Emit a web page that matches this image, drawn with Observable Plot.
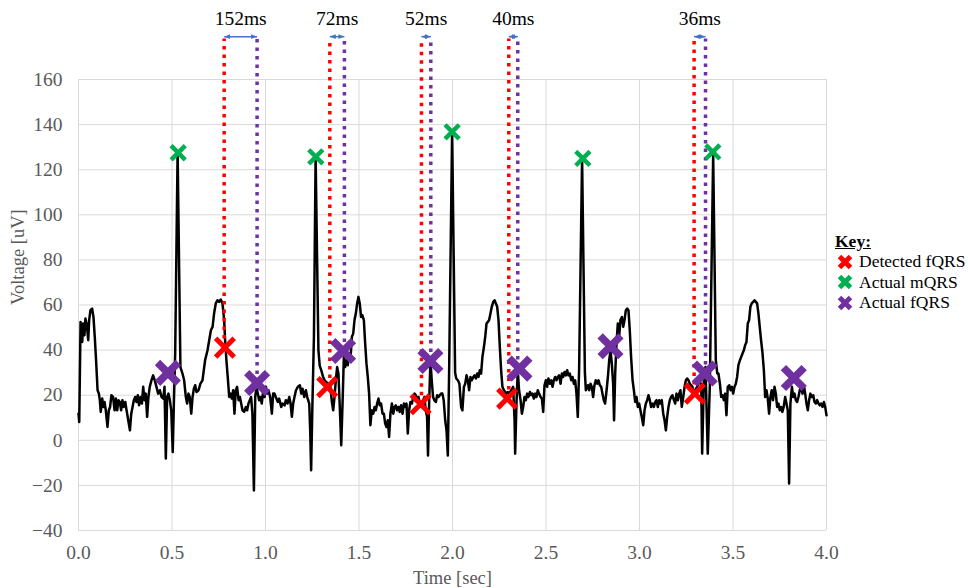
<!DOCTYPE html>
<html>
<head>
<meta charset="utf-8">
<script src="https://cdn.jsdelivr.net/npm/d3@7"></script>
<script src="https://cdn.jsdelivr.net/npm/@observablehq/plot@0.6"></script>
<style>
  html, body { margin: 0; padding: 0; background: #fff; }
  #wrap { position: relative; width: 968px; height: 588px; overflow: hidden; }
  #legend { position: absolute; left: 835px; top: 231px; font-family: "Liberation Serif", serif; font-size: 17.5px; color: #000; white-space: nowrap; width: 140px; }
  #legend .key { font-weight: bold; text-decoration: underline; height: 20.5px; line-height: 20.5px; }
  #legend .row { display: flex; align-items: center; height: 20.5px; white-space: nowrap; }
  #legend .row svg { margin-left: 2px; margin-right: 6px; flex: none; }
</style>
</head>
<body>
<div id="wrap">
  <div id="chart"></div>
  <div id="legend"></div>
</div>
<script>
// ---- Data ----
// ECG trace: [time (s), voltage (uV)]
const ecg = [
[0.000,11.8],[0.004,8.1],[0.011,52.5],[0.020,43.6],[0.025,51.8],[0.032,46.6],[0.037,54.0],[0.045,51.0],[0.052,44.4],[0.057,53.3],[0.064,57.7],[0.073,58.4],[0.080,54.7],[0.087,45.9],[0.094,35.5],[0.102,22.2],[0.109,20.7],[0.114,17.8],[0.119,12.6],[0.127,18.5],[0.132,14.8],[0.139,17.0],[0.146,13.3],[0.155,5.9],[0.162,13.3],[0.169,14.8],[0.176,20.0],[0.185,19.2],[0.193,13.3],[0.200,18.5],[0.207,13.3],[0.214,17.8],[0.221,17.0],[0.228,13.3],[0.235,17.8],[0.242,14.8],[0.250,17.0],[0.257,13.3],[0.266,8.9],[0.275,4.4],[0.282,11.8],[0.289,14.8],[0.296,17.8],[0.303,19.2],[0.310,17.0],[0.317,20.0],[0.324,15.5],[0.332,19.2],[0.339,16.3],[0.346,23.7],[0.353,17.8],[0.360,20.7],[0.367,10.4],[0.374,19.2],[0.381,23.7],[0.390,26.6],[0.399,28.8],[0.408,26.6],[0.417,23.7],[0.426,20.7],[0.435,22.2],[0.444,19.2],[0.453,18.5],[0.460,23.7],[0.467,-8.1],[0.474,19.2],[0.481,20.7],[0.488,18.0],[0.496,13.3],[0.504,-5.2],[0.510,16.3],[0.517,38.5],[0.530,128.0],[0.545,32.5],[0.556,29.6],[0.565,26.6],[0.574,19.2],[0.581,16.3],[0.588,20.7],[0.595,19.2],[0.603,11.8],[0.610,19.2],[0.617,22.9],[0.624,24.4],[0.631,21.4],[0.642,22.2],[0.652,25.1],
[0.663,26.6],[0.677,35.5],[0.690,39.9],[0.699,44.4],[0.708,48.8],[0.717,50.3],[0.725,56.2],[0.734,60.7],[0.743,62.1],[0.752,61.4],[0.761,62.4],[0.770,60.7],[0.779,53.3],[0.784,44.4],[0.791,35.5],[0.798,28.1],[0.806,19.2],[0.813,20.7],[0.820,18.5],[0.827,22.2],[0.834,11.8],[0.841,22.2],[0.848,23.7],[0.856,17.8],[0.863,19.2],[0.870,16.3],[0.877,13.3],[0.886,12.6],[0.895,14.8],[0.902,13.3],[0.909,16.3],[0.916,17.8],[0.923,19.2],[0.930,11.8],[0.938,-22.2],[0.945,19.2],[0.952,23.7],[0.959,20.7],[0.966,17.8],[0.973,19.2],[0.980,16.3],[0.988,22.2],[0.995,19.2],[1.002,23.7],[1.009,20.7],[1.016,22.2],[1.025,19.2],[1.034,11.8],[1.041,20.7],[1.048,20.7],[1.055,19.2],[1.066,17.0],[1.073,18.5],[1.084,14.8],[1.091,16.3],[1.102,15.5],[1.109,17.8],[1.118,16.3],[1.127,19.2],[1.134,16.3],[1.141,10.4],[1.148,16.3],[1.155,19.2],[1.163,22.2],[1.173,23.7],[1.184,24.4],[1.191,20.7],[1.198,22.9],[1.207,19.2],[1.216,22.2],[1.223,19.2],[1.234,16.3],[1.239,4.4],[1.244,-13.3],[1.251,16.3],[1.259,45.9],[1.268,126.0],[1.283,40.0],[1.290,33.0],[1.298,31.1],[1.308,28.1],[1.316,26.6],[1.323,25.9],
[1.337,25.1],[1.346,24.4],[1.355,17.0],[1.362,13.3],[1.369,19.2],[1.376,26.6],[1.383,32.5],[1.390,29.6],[1.398,13.3],[1.405,-2.2],[1.412,16.3],[1.419,37.0],[1.426,32.5],[1.433,35.5],[1.440,33.3],[1.447,38.5],[1.455,37.0],[1.462,45.9],[1.469,47.3],[1.476,53.3],[1.483,56.2],[1.490,60.7],[1.497,63.6],[1.504,60.7],[1.511,54.7],[1.518,55.5],[1.526,53.3],[1.533,42.9],[1.540,34.0],[1.547,28.1],[1.554,20.7],[1.561,6.7],[1.568,13.3],[1.576,11.8],[1.583,14.8],[1.590,13.3],[1.597,16.3],[1.604,18.5],[1.611,15.5],[1.618,16.3],[1.626,11.8],[1.633,11.8],[1.640,7.4],[1.647,5.9],[1.654,8.9],[1.661,1.5],[1.668,11.8],[1.676,16.3],[1.683,11.8],[1.690,14.8],[1.697,15.5],[1.704,13.3],[1.711,14.8],[1.718,12.6],[1.725,15.5],[1.733,11.8],[1.740,16.3],[1.747,14.8],[1.754,16.3],[1.761,3.0],[1.768,13.3],[1.775,17.0],[1.783,16.3],[1.790,19.2],[1.797,20.7],[1.804,20.0],[1.811,17.8],[1.818,19.2],[1.825,17.0],[1.836,14.8],[1.843,17.8],[1.850,19.2],[1.857,13.3],[1.864,10.4],[1.869,-6.7],[1.875,16.3],[1.882,35.5],[1.889,26.6],[1.896,19.2],[1.903,17.8],[1.911,17.0],[1.918,20.0],[1.925,19.2],[1.932,20.0],[1.939,20.7],[1.946,20.7],[1.953,17.8],[1.961,8.9],[1.968,4.4],[1.975,-6.7],[1.982,31.1],[1.998,137.0],[2.014,30.0],
[2.020,27.4],[2.029,26.6],[2.037,25.1],[2.046,14.8],[2.053,13.3],[2.061,23.7],[2.068,25.1],[2.075,28.8],[2.082,26.6],[2.089,22.2],[2.096,28.1],[2.103,26.6],[2.111,28.1],[2.118,28.8],[2.125,27.4],[2.132,29.6],[2.139,28.1],[2.146,31.1],[2.153,29.6],[2.160,37.0],[2.168,41.4],[2.175,45.9],[2.182,51.8],[2.189,52.5],[2.196,53.3],[2.203,56.2],[2.210,59.2],[2.218,61.4],[2.225,62.1],[2.232,60.7],[2.239,59.2],[2.246,53.3],[2.253,41.4],[2.260,31.1],[2.267,23.7],[2.275,22.2],[2.282,21.4],[2.289,20.7],[2.296,21.4],[2.303,20.7],[2.314,22.2],[2.324,23.7],[2.332,8.9],[2.335,-5.9],[2.342,16.3],[2.349,31.1],[2.356,22.2],[2.364,17.8],[2.371,11.8],[2.378,14.8],[2.385,19.2],[2.392,17.8],[2.399,20.7],[2.406,19.2],[2.414,21.4],[2.421,20.0],[2.428,20.7],[2.435,18.5],[2.442,20.7],[2.449,19.2],[2.456,22.2],[2.463,20.7],[2.471,19.2],[2.478,18.5],[2.485,12.6],[2.492,24.4],[2.499,26.6],[2.506,23.7],[2.513,27.4],[2.521,25.1],[2.528,26.6],[2.535,23.7],[2.542,26.6],[2.549,28.1],[2.556,26.6],[2.563,28.1],[2.570,28.8],[2.578,25.1],[2.585,29.6],[2.592,28.1],[2.599,30.3],[2.606,28.8],[2.613,31.1],[2.620,28.8],[2.627,29.6],[2.635,26.6],[2.642,28.1],[2.649,25.1],[2.656,26.6],[2.663,20.7],[2.670,10.4],[2.677,31.1],[2.693,125.0],[2.708,30.0],[2.713,22.2],
[2.724,24.4],[2.731,22.2],[2.738,25.1],[2.745,23.7],[2.752,19.2],[2.759,24.4],[2.766,26.6],[2.774,25.1],[2.781,26.6],[2.788,24.4],[2.795,23.7],[2.802,20.7],[2.809,17.8],[2.816,16.3],[2.824,22.2],[2.831,28.1],[2.838,35.5],[2.845,39.9],[2.852,34.0],[2.859,25.1],[2.864,8.9],[2.870,29.6],[2.877,42.9],[2.884,51.8],[2.891,45.9],[2.898,53.3],[2.906,54.7],[2.913,50.3],[2.920,53.3],[2.927,57.7],[2.934,58.4],[2.941,57.7],[2.948,48.8],[2.955,37.0],[2.963,26.6],[2.970,22.2],[2.977,17.0],[2.984,19.2],[2.991,14.8],[2.998,16.3],[3.005,13.3],[3.012,10.4],[3.020,6.7],[3.027,13.3],[3.034,16.3],[3.041,17.8],[3.048,20.0],[3.055,17.8],[3.062,14.8],[3.070,16.3],[3.077,14.8],[3.084,17.0],[3.091,17.8],[3.098,14.8],[3.105,17.8],[3.112,16.3],[3.119,17.8],[3.127,11.8],[3.134,8.9],[3.141,4.4],[3.148,10.4],[3.155,14.8],[3.162,17.8],[3.169,19.2],[3.176,20.0],[3.184,17.8],[3.191,16.3],[3.198,20.7],[3.205,17.8],[3.212,20.7],[3.219,22.2],[3.226,14.8],[3.234,19.2],[3.241,23.7],[3.248,26.6],[3.255,27.4],[3.262,26.6],[3.269,25.1],[3.276,24.4],[3.283,23.7],[3.290,20.7],[3.297,22.2],[3.308,23.7],[3.320,26.0],[3.330,25.0],[3.335,-5.9],[3.344,26.0],[3.353,32.5],[3.365,-5.9],[3.376,24.0],[3.394,127.0],[3.408,35.5],[3.416,29.6],
[3.422,29.6],[3.430,25.1],[3.437,19.2],[3.444,20.0],[3.451,17.8],[3.458,20.7],[3.465,11.1],[3.472,23.7],[3.480,24.4],[3.487,22.2],[3.494,23.7],[3.501,20.7],[3.508,23.7],[3.515,25.1],[3.522,28.1],[3.529,33.3],[3.537,35.5],[3.544,37.0],[3.551,38.5],[3.558,39.9],[3.565,42.2],[3.572,43.6],[3.579,51.8],[3.586,53.3],[3.593,59.2],[3.600,60.7],[3.608,61.4],[3.615,62.1],[3.622,61.4],[3.629,60.7],[3.636,56.2],[3.643,50.3],[3.650,44.4],[3.658,38.5],[3.665,31.1],[3.672,19.2],[3.679,22.2],[3.686,18.5],[3.693,11.8],[3.700,19.2],[3.707,22.2],[3.714,17.8],[3.722,23.7],[3.729,20.7],[3.736,14.8],[3.743,16.3],[3.750,13.3],[3.757,14.8],[3.764,12.6],[3.771,14.8],[3.779,19.2],[3.786,16.3],[3.793,13.3],[3.800,-19.2],[3.807,16.3],[3.815,23.7],[3.822,19.2],[3.829,20.7],[3.836,17.8],[3.843,17.0],[3.850,19.2],[3.857,22.2],[3.864,23.7],[3.872,20.7],[3.879,24.4],[3.886,20.7],[3.893,16.3],[3.900,13.3],[3.907,17.8],[3.914,20.7],[3.921,19.2],[3.929,20.0],[3.936,17.0],[3.943,16.3],[3.950,17.8],[3.957,16.3],[3.964,15.5],[3.971,16.3],[3.979,14.8],[3.986,17.0],[3.993,14.8],[4.000,11.1]
];

// Markers
const detectedT = [0.783, 1.330, 1.829, 2.292, 3.296];
const detectedV = [41.1, 23.6, 16.0, 18.5, 20.7];
const mqrsT = [0.533, 1.269, 1.998, 2.697, 3.392];
const mqrsV = [127.5, 125.7, 136.8, 125.0, 127.9];
const fqrsT = [0.478, 0.955, 1.415, 1.882, 2.358, 2.845, 3.349, 3.825];
const fqrsV = [29.9, 25.4, 39.6, 35.2, 31.8, 41.7, 29.6, 27.6];

// Interval annotations (detected vs actual fQRS)
const intervalLabels = ["152ms", "72ms", "52ms", "40ms", "36ms"];
const intervalDetectedT = [0.779, 1.344, 1.834, 2.301, 3.292];
const intervalActualT = [0.955, 1.422, 1.884, 2.349, 3.353];
const intervalDetectedV = [41.1, 23.6, 16.0, 18.5, 20.7];
const intervalActualV = [25.4, 39.6, 35.2, 31.8, 29.6];
const intervalTopV = 178;
const intervalLabelV = 187;

// Axes
const xTicks = [0, 0.5, 1, 1.5, 2, 2.5, 3, 3.5, 4];
const yTicks = [-40, -20, 0, 20, 40, 60, 80, 100, 120, 140, 160];
const xLabel = "Time [sec]";
const yLabel = "Voltage [uV]";

// Legend
const legendTitle = "Key:";
const legendItems = ["Detected fQRS", "Actual mQRS", "Actual fQRS"];
const legendColors = ["#FF0000", "#00B050", "#7030A0"];

// ---- Build ----
const signal = ecg.map(([t, v]) => ({t, v}));
const detected = detectedT.map((t, i) => ({t, v: detectedV[i]}));
const mqrs = mqrsT.map((t, i) => ({t, v: mqrsV[i]}));
const fqrs = fqrsT.map((t, i) => ({t, v: fqrsV[i]}));
const intervals = intervalLabels.map((label, i) => ({
  label,
  td: intervalDetectedT[i],
  ta: intervalActualT[i],
  vd: intervalDetectedV[i],
  va: intervalActualV[i],
  mid: (intervalDetectedT[i] + intervalActualT[i]) / 2
}));

function headMarker(color) {
  const ns = "http://www.w3.org/2000/svg";
  const m = document.createElementNS(ns, "marker");
  m.setAttribute("viewBox", "-5 -5 10 10");
  m.setAttribute("markerWidth", "6");
  m.setAttribute("markerHeight", "6");
  m.setAttribute("markerUnits", "userSpaceOnUse");
  m.setAttribute("orient", "auto-start-reverse");
  m.setAttribute("refX", "5");
  const p = document.createElementNS(ns, "path");
  p.setAttribute("d", "M-5,-4L5,0L-5,4Z");
  p.setAttribute("fill", color);
  p.setAttribute("stroke", "none");
  m.appendChild(p);
  return m;
}

const red = legendColors[0], green = legendColors[1], purple = legendColors[2];

const chart = Plot.plot({
  width: 968,
  height: 588,
  marginLeft: 78,
  marginRight: 142,
  marginTop: 79,
  marginBottom: 58,
  style: {fontFamily: '"Liberation Serif", serif', fontSize: "19.5px", color: "#595959", background: "#fff"},
  x: {domain: [0, 4]},
  y: {domain: [-40, 160]},
  marks: [
    Plot.gridX(xTicks, {stroke: "#D9D9D9", strokeOpacity: 1, strokeWidth: 1}),
    Plot.gridY(yTicks, {stroke: "#D9D9D9", strokeOpacity: 1, strokeWidth: 1}),
    Plot.axisX(xTicks, {tickSize: 0, tickPadding: 15, tickFormat: d3.format(".1f"), label: null, fontSize: 19.5}),
    Plot.axisY(yTicks, {tickSize: 0, tickPadding: 16, label: null, fontSize: 19.5}),
    Plot.text([xLabel], {frameAnchor: "bottom", dy: 48, lineAnchor: "middle", fontSize: 18.5, fill: "#595959"}),
    Plot.text([yLabel], {frameAnchor: "left", dx: -60, rotate: -90, lineAnchor: "middle", fontSize: 18.5, fill: "#595959"}),
    Plot.line(signal, {x: "t", y: "v", stroke: "#000", strokeWidth: 2.5, strokeLinejoin: "round"}),
    Plot.ruleX(intervals, {x: "td", y1: "vd", y2: intervalTopV, stroke: red, strokeWidth: 3.5, strokeDasharray: "3.5,5"}),
    Plot.ruleX(intervals, {x: "ta", y1: "va", y2: intervalTopV, stroke: purple, strokeWidth: 3.5, strokeDasharray: "3.5,5"}),
    Plot.link(intervals, {x1: "td", x2: "ta", y1: intervalTopV + 1, y2: intervalTopV + 1, stroke: "#4472C4", strokeWidth: 1.5, marker: headMarker}),
    Plot.text(intervals, {x: "mid", y: intervalLabelV, text: "label", fill: "#000", fontSize: 19.5, lineAnchor: "middle"}),
    Plot.dot(detected, {x: "t", y: "v", symbol: "times", r: 8.5, stroke: red, strokeWidth: 5}),
    Plot.dot(mqrs, {x: "t", y: "v", symbol: "times", r: 6.5, stroke: green, strokeWidth: 4.5}),
    Plot.dot(fqrs, {x: "t", y: "v", symbol: "times", r: 9.5, stroke: purple, strokeWidth: 7.5})
  ]
});
document.getElementById("chart").appendChild(chart);

// Legend
const legend = document.getElementById("legend");
const k = document.createElement("div");
k.className = "key";
k.textContent = legendTitle;
legend.appendChild(k);
legendItems.forEach((name, i) => {
  const row = document.createElement("div");
  row.className = "row";
  row.innerHTML = `<svg width="16" height="16" viewBox="0 0 16 16"><path d="M2.5,2.5L13.5,13.5M13.5,2.5L2.5,13.5" stroke="${legendColors[i]}" stroke-width="5"/></svg><span>${name}</span>`;
  legend.appendChild(row);
});
</script>
</body>
</html>
